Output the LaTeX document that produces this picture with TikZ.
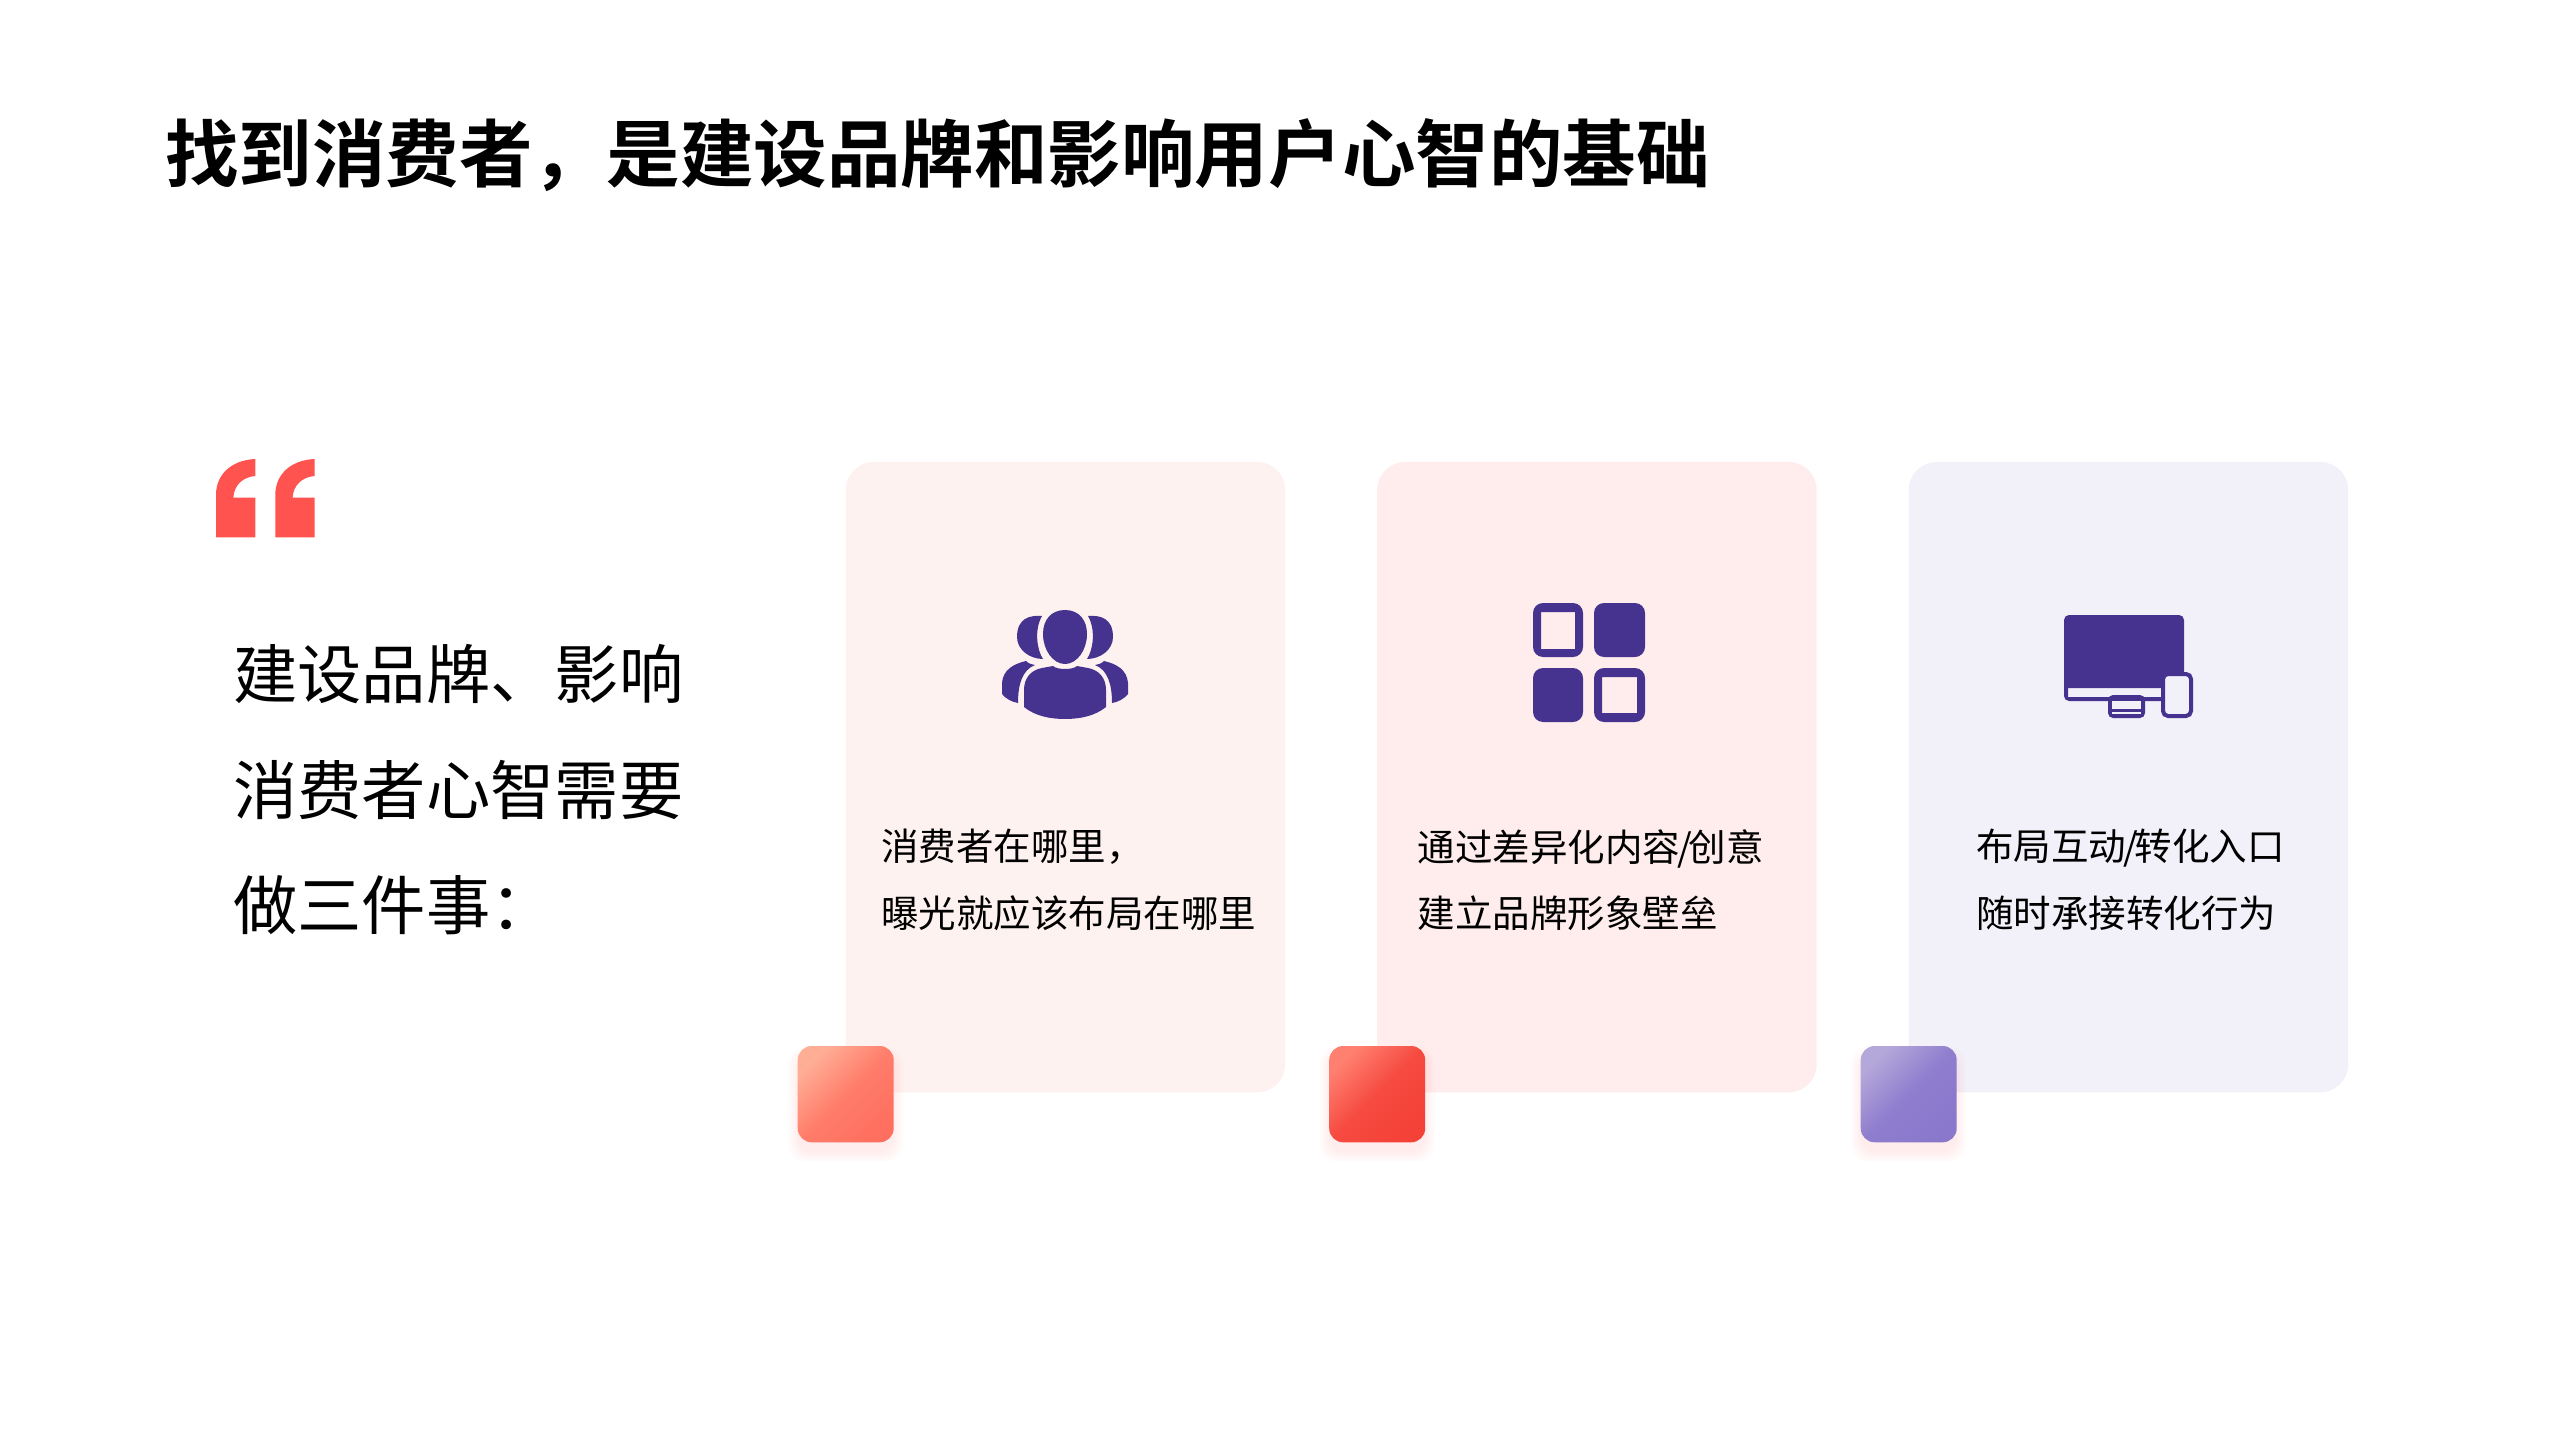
\documentclass[tikz,border=0pt]{standalone}
\usepackage{fontspec}
\setmainfont{Noto Sans CJK SC}[BoldFont=* Bold]
\definecolor{icon}{HTML}{46338F}
\definecolor{quotered}{HTML}{FF5350}
\definecolor{cardA}{HTML}{FDF2F0}
\definecolor{cardB}{HTML}{FFEDED}
\definecolor{cardC}{HTML}{F2F1FA}
\definecolor{shadowc}{HTML}{FFA08A}
\definecolor{tileAa}{HTML}{FFAE96}
\definecolor{tileAm}{HTML}{FF7D6B}
\definecolor{tileAb}{HTML}{FF6F5F}
\definecolor{tileBa}{HTML}{FF8070}
\definecolor{tileBm}{HTML}{F64A40}
\definecolor{tileBb}{HTML}{F54238}
\definecolor{tileCa}{HTML}{B4A8DA}
\definecolor{tileCm}{HTML}{8F7DCE}
\definecolor{tileCb}{HTML}{8A78CC}
\tikzset{
  card/.style={anchor=north west,inner sep=0pt,outer sep=0pt,minimum width=439.5pt,minimum height=630.3pt,rounded corners=28pt},
  titletext/.style={anchor=west,inner sep=0pt,font=\fontsize{73.55}{80}\selectfont\bfseries,text=black},
  leadtext/.style={anchor=west,inner sep=0pt,align=left,font=\fontsize{64.3}{115.5}\selectfont,text=black},
  cardtext/.style={anchor=west,inner sep=0pt,align=left,font=\fontsize{37.5}{66.5}\selectfont,text=black},
  tile/.style={inner sep=0pt,outer sep=0pt,minimum width=96pt,minimum height=96.3pt,rounded corners=14pt},
}
\newcommand{\tileshadow}[1]{%
  \foreach \i in {0,...,8}{
    \fill[shadowc,opacity=0.016,rounded corners=16pt]
      ({#1-48-\i*1.2},{1046+10-\i*1.2}) rectangle ({#1+48+\i*1.2},{1142.3+10+\i*1.2});
  }%
}
\newcommand{\slashmark}{\kern-3pt/\kern-3pt}
\begin{document}
\begin{tikzpicture}[x=1pt,y=-1pt]
\useasboundingbox (0,0) rectangle (2559,1439);
\fill[white] (0,0) rectangle (2559,1439);
\node[titletext] (title) at (165,155) {找到消费者，是建设品牌和影响用户心智的基础};

% quote mark
\foreach \dx in {0,59.3}{
\fill[quotered,shift={(\dx,0)}] (216,537.3) -- (255.3,537.3) -- (255.3,497.7) -- (233.3,497.7)
  .. controls (234,485) and (243,477) .. (255.3,476) -- (255.3,459)
  .. controls (232,460) and (216,474) .. (216,495) -- cycle;
}

\node[leadtext] (lead) at (233,790) {建设品牌、影响\\消费者心智需要\\做三件事：};

% cards
\node[card,fill=cardA] (c1) at (845.7,462) {};
\node[card,fill=cardB] (c2) at (1377.2,462) {};
\node[card,fill=cardC] (c3) at (1908.7,462) {};

\node[cardtext] (t1) at (881,880) {消费者在哪里，\\曝光就应该布局在哪里};
\node[cardtext] (t2) at (1417.5,880) {通过差异化内容\slashmark{}创意\\建立品牌形象壁垒};
\node[cardtext] (t3) at (1976,880) {布局互动\slashmark{}转化入口\\随时承接转化行为};

% people icon
\begin{scope}[shift={(1065,0)}]
\fill[icon] (0,610) .. controls (14,610) and (22,620) .. (22,634)
  .. controls (22,650) and (12,664) .. (0,664)
  .. controls (-12,664) and (-22,650) .. (-22,634)
  .. controls (-22,620) and (-14,610) .. (0,610) -- cycle;
\fill[icon] (-41,707) -- (-41,690) .. controls (-41,678) and (-34,670) .. (-23,668)
  -- (-12,666) .. controls (-8,670) and (8,670) .. (12,666) -- (23,668)
  .. controls (34,670) and (41,678) .. (41,690) -- (41,707)
  .. controls (30,716) and (15,719) .. (0,719)
  .. controls (-15,719) and (-30,716) .. (-41,707) -- cycle;
\foreach \s in {-1,1}{
  \begin{scope}[xscale=\s]
  \fill[icon] (-23,616) .. controls (-35,615) and (-48,618) .. (-48,637)
    .. controls (-48,650) and (-35,659) .. (-22,659)
    .. controls (-28,650) and (-31,630) .. (-23,616) -- cycle;
  \fill[icon] (-39,661) .. controls (-36,664) and (-34,664) .. (-30,665)
    .. controls (-43,670) and (-47,685) .. (-47,703)
    .. controls (-53,702) and (-59,699) .. (-63,694) -- (-63,683)
    .. controls (-62,670) and (-52,664) .. (-39,661) -- cycle;
  \end{scope}
}
\end{scope}

% grid icon
\fill[icon,even odd rule,rounded corners=10pt] (1533,603) rectangle (1583,657) [sharp corners] (1541,612) rectangle (1575,649);
\fill[icon,rounded corners=10pt] (1594,603) rectangle (1645,657);
\fill[icon,rounded corners=10pt] (1533,668) rectangle (1583,722);
\fill[icon,even odd rule,rounded corners=10pt] (1594,668) rectangle (1645,722) [sharp corners] (1602,677) rectangle (1637,713);

% device icon
\fill[icon,even odd rule,rounded corners=5pt] (2064,615) rectangle (2184,701) [sharp corners] (2068,688) rectangle (2170,697);
\fill[icon,rounded corners=5pt] (2108,695) rectangle (2145,718);
\fill[cardC] (2112,701) rectangle (2141,709);
\fill[cardC] (2112,712) rectangle (2141,714);
\draw[icon,fill=cardC,line width=4pt,rounded corners=5pt] (2163,674) rectangle (2191,716);

% tiles
\tileshadow{845.7}
\tileshadow{1377.2}
\tileshadow{1908.7}
\node[tile,top color=tileAa,bottom color=tileAb,middle color=tileAm,shading angle=45] (s1) at (845.7,1094.15) {};
\node[tile,top color=tileBa,bottom color=tileBb,middle color=tileBm,shading angle=45] (s2) at (1377.2,1094.15) {};
\node[tile,top color=tileCa,bottom color=tileCb,middle color=tileCm,shading angle=45] (s3) at (1908.7,1094.15) {};
\end{tikzpicture}
\end{document}
